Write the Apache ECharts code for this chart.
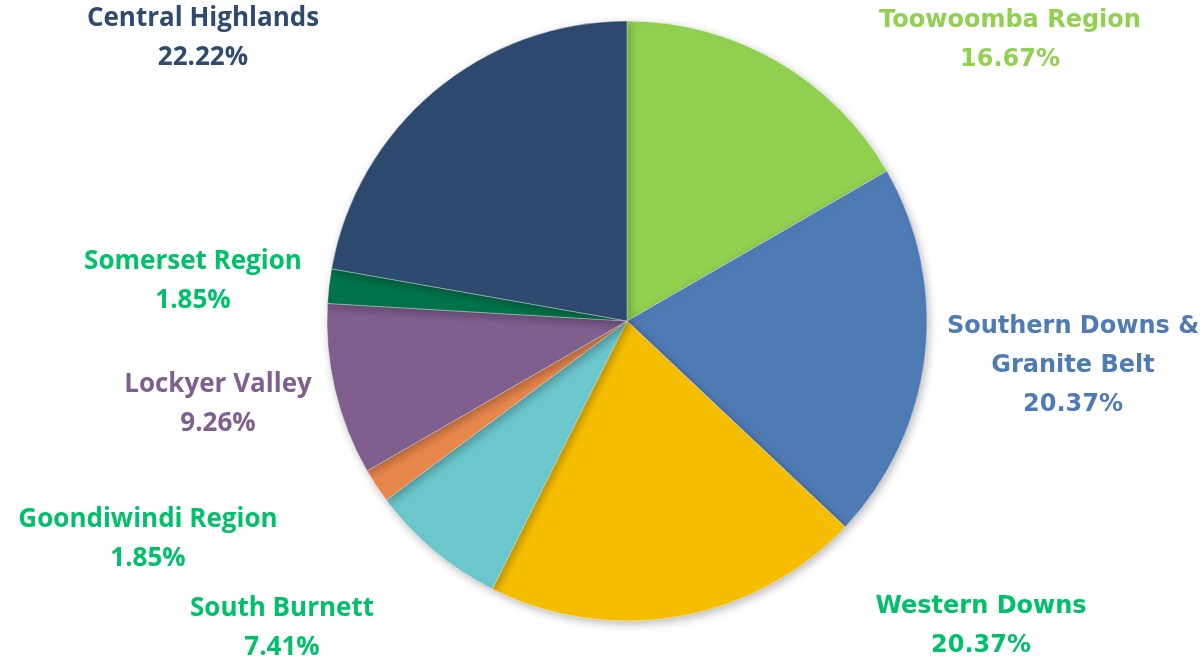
<!DOCTYPE html>
<html>
<head>
<meta charset="utf-8">
<script src="https://cdn.jsdelivr.net/npm/echarts@6/dist/echarts.min.js"></script>
<style>
html,body{margin:0;padding:0;background:#fff;}
#chart{width:1203px;height:661px;}
</style>
</head>
<body>
<div id="chart"></div>
<script>
// Data (percentages)
const categories = ['Toowoomba Region', 'Southern Downs &\nGranite Belt', 'Western Downs', 'South Burnett', 'Goondiwindi Region', 'Lockyer Valley', 'Somerset Region', 'Central Highlands'];
const shares = [16.67, 20.37, 20.37, 7.41, 1.85, 9.26, 1.85, 22.22];

// Styles
const sliceColors = ['#92D050', '#4F7BB5', '#F6BE00', '#6BC7CC', '#E8874C', '#7F5F8E', '#00734A', '#2E4A6E'];
const labelColors = ['#92D050', '#4F7BB5', '#00C06A', '#00C06A', '#00C06A', '#7F5F8E', '#00C06A', '#2E4A6E'];
// label anchor positions (label centers) in the canvas
const labelPos = [[1010, 40], [1073, 366], [981, 626], [282, 628], [148, 539], [218, 404], [193, 281], [203, 38]];
const labelFonts = ['DejaVu Sans', 'DejaVu Sans', 'DejaVu Sans', 'Open Sans', 'Open Sans', 'Open Sans', 'Open Sans', 'Open Sans'];
const labelSizes = [24, 24, 24, 26, 26, 26, 26, 26];

const chart = echarts.init(document.getElementById('chart'), null, {renderer: 'canvas'});
chart.setOption({
  animation: false,
  series: [{
    type: 'pie',
    center: [627, 321],
    radius: 300,
    startAngle: 90,
    clockwise: true,
    data: categories.map((c, i) => ({
      name: c,
      value: shares[i],
      itemStyle: {color: sliceColors[i]},
      label: {color: labelColors[i], fontFamily: labelFonts[i], fontSize: labelSizes[i]}
    })),
    itemStyle: {
      borderColor: 'rgba(255,255,255,0.6)',
      borderWidth: 0.6,
      shadowBlur: 10,
      shadowColor: 'rgba(0,0,0,0.28)',
      shadowOffsetX: 2,
      shadowOffsetY: 3
    },
    label: {
      show: true,
      position: 'outside',
      formatter: p => p.name + '\n' + p.value.toFixed(2) + '%',
      fontWeight: 'bold',
      lineHeight: 39,
      align: 'center',
      overflow: 'none',
      width: 400
    },
    labelLine: {show: false},
    labelLayout: function (params) {
      const pos = labelPos[params.dataIndex];
      return {x: pos[0], y: pos[1], align: 'center', verticalAlign: 'middle', hideOverlap: false, moveOverlap: null};
    },
    emphasis: {disabled: true}
  }]
});
</script>
</body>
</html>
